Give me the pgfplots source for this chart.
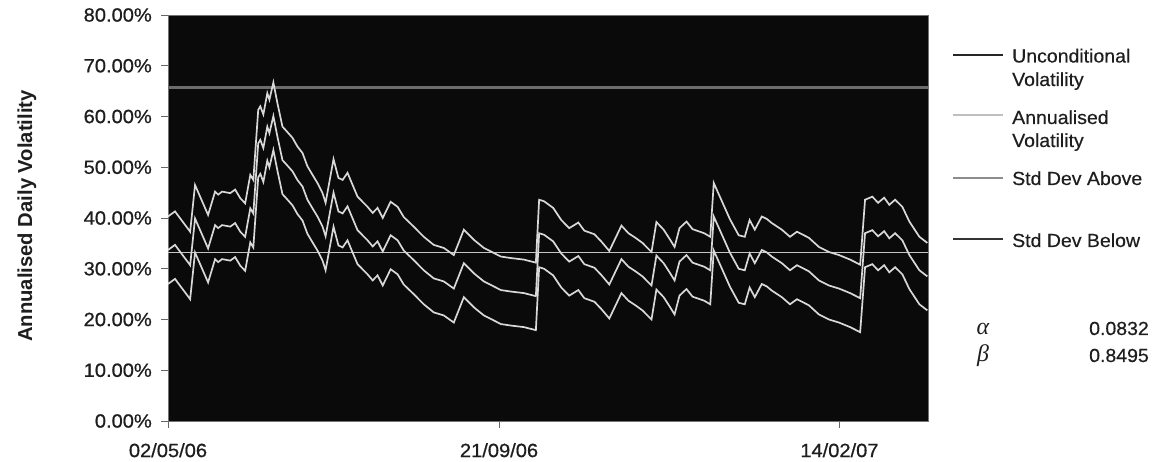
\documentclass[border=0pt]{standalone}
\usepackage{pgfplots}
\usepackage{pgfplotstable}
\pgfplotsset{compat=1.18}
\usepackage{fontspec}
\setmainfont{Liberation Sans}
\newfontfamily\tickfont{Liberation Sans}[FakeStretch=1.05, FakeBold=0.7]
\newfontfamily\legtextfont{Liberation Sans}[FakeStretch=1.03, FakeBold=0.4]
\newfontfamily\grkfont{Liberation Serif}
\definecolor{curvecol}{HTML}{D8D8D8}
\definecolor{unccol}{HTML}{C4C4C4}
\definecolor{topline}{HTML}{6C6C6C}
\definecolor{plotbg}{HTML}{0A0A0A}
\definecolor{txt}{HTML}{1E1E1E}
\newcommand\legfont{\legtextfont\fontsize{19}{23}\selectfont}

\pgfplotstableread{
d top mid bot
0.0 40.3 33.7 27.0
3.0 41.3 34.7 28.0
9.5 37.3 30.7 24.0
11.6 46.5 39.9 33.2
17.2 40.6 34.0 27.3
20.2 45.2 38.6 31.9
21.5 44.6 38.0 31.3
23.2 45.2 38.6 31.9
26.7 44.9 38.3 31.6
28.8 45.6 39.0 32.3
31.0 43.9 37.3 30.6
33.1 42.9 36.3 29.6
35.3 48.5 41.9 35.2
36.6 47.5 40.9 34.2
38.7 61.3 54.7 48.0
39.6 62.0 55.4 48.7
40.9 60.4 53.8 47.1
42.6 64.6 58.0 51.3
43.5 63.3 56.7 50.0
45.2 66.7 60.1 53.4
46.9 62.7 56.1 49.4
49.1 58.0 51.4 44.7
50.3 57.4 50.8 44.1
53.4 55.8 49.2 42.5
55.5 54.1 47.5 40.8
57.7 52.8 46.2 39.5
59.8 50.2 43.6 36.9
62.0 48.5 41.9 35.2
64.1 46.9 40.3 33.6
66.3 44.9 38.3 31.6
67.6 43.0 36.4 29.7
71.0 51.6 45.0 38.3
73.1 47.9 41.3 34.6
74.9 47.5 40.9 34.2
77.0 48.9 42.3 35.6
81.3 44.2 37.6 30.9
85.6 42.2 35.6 28.9
87.8 41.0 34.4 27.7
89.9 42.0 35.4 28.7
92.1 40.0 33.4 26.7
95.5 43.2 36.6 29.9
98.5 42.2 35.6 28.9
101.1 40.2 33.6 26.9
105.4 38.3 31.7 25.0
109.7 36.3 29.7 23.0
114.0 34.7 28.1 21.4
118.3 34.1 27.5 20.8
122.6 32.7 26.1 19.4
126.9 37.7 31.1 24.4
131.2 35.7 29.1 22.4
135.5 34.1 27.5 20.8
139.8 33.1 26.5 19.8
142.8 32.4 25.8 19.1
147.2 32.1 25.5 18.8
152.7 31.8 25.2 18.5
157.8 31.2 24.6 17.9
159.2 43.6 37.0 30.3
161.3 43.3 36.7 30.0
165.2 42.0 35.4 28.7
168.7 39.6 33.0 26.3
172.1 38.0 31.4 24.7
176.0 39.1 32.5 25.8
178.6 37.5 30.9 24.2
182.9 36.8 30.2 23.5
186.0 35.3 28.7 22.0
189.3 33.5 26.9 20.2
194.5 38.5 31.9 25.2
197.5 37.0 30.4 23.7
200.5 36.1 29.5 22.8
203.5 35.1 28.5 21.8
207.4 33.3 26.7 20.0
209.5 39.2 32.6 25.9
212.6 37.7 31.1 24.4
215.0 36.0 29.4 22.7
217.3 34.3 27.7 21.0
219.4 38.0 31.4 24.7
222.4 39.3 32.7 26.0
225.0 37.8 31.2 24.5
230.0 37.0 30.4 23.7
232.6 36.3 29.7 23.0
234.1 46.9 40.3 33.6
237.5 43.4 36.8 30.1
241.0 39.8 33.2 26.5
244.8 36.6 30.0 23.3
247.4 36.3 29.7 23.0
249.5 39.6 33.0 26.3
251.7 37.7 31.1 24.4
254.7 40.3 33.7 27.0
256.9 39.8 33.2 26.5
259.0 39.0 32.4 25.7
263.3 37.7 31.1 24.4
266.8 36.3 29.7 23.0
269.8 37.3 30.7 24.0
274.9 36.1 29.5 22.8
279.2 34.3 27.7 21.0
283.5 33.3 26.7 20.0
287.8 32.7 26.1 19.4
292.6 31.8 25.2 18.5
296.9 30.8 24.2 17.5
299.0 43.6 37.0 30.3
302.1 44.2 37.6 30.9
304.6 43.0 36.4 29.7
307.2 44.0 37.4 30.7
309.4 42.6 36.0 29.3
311.9 43.6 37.0 30.3
315.0 42.2 35.6 28.9
318.0 39.3 32.7 26.0
322.3 36.3 29.7 23.0
325.7 35.1 28.5 21.8
}\vol

\begin{document}
\begin{tikzpicture}
\path[use as bounding box, fill=white] (0bp,0bp) rectangle (1156bp,462bp);
\begin{axis}[
  at={(168bp,41bp)}, anchor=south west,
  scale only axis, width=760bp, height=406bp,
  xmin=0, xmax=326, ymin=0, ymax=80,
  axis background/.style={fill=plotbg},
  axis line style={black!55, line width=0.9bp},
  xtick={0,142,288},
  xticklabels={02/05/06,21/09/06,14/02/07},
  ytick={0,10,20,30,40,50,60,70,80},
  yticklabels={0.00\%,10.00\%,20.00\%,30.00\%,40.00\%,50.00\%,60.00\%,70.00\%,80.00\%},
  tick align=outside, major tick length=7bp,
  tick style={black!60, line width=0.8bp},
  xtick pos=bottom, ytick pos=left,
  tick label style={font=\tickfont\fontsize{19.2}{21}\selectfont, text=txt},
  yticklabel style={anchor=east, inner sep=0pt, xshift=-9bp},
  xticklabel style={anchor=north, inner sep=0pt, yshift=-15bp},
  clip=true,
]
\addplot[no marks, color=topline, line width=3.5bp] coordinates {(0,65.7) (326,65.7)};
\addplot[no marks, color=unccol, line width=1.5bp] coordinates {(0,33.2) (326,33.2)};
\addplot[no marks, color=curvecol, line width=1.7bp] table[x=d, y=top] {\vol};
\addplot[no marks, color=curvecol, line width=1.7bp] table[x=d, y=mid] {\vol};
\addplot[no marks, color=curvecol, line width=1.7bp] table[x=d, y=bot] {\vol};
\end{axis}

% y axis title
\node[rotate=90, text=txt, font=\bfseries\fontsize{20.3}{22}\selectfont] at (27bp,246bp) {Annualised Daily Volatility};

% legend
\draw[line width=1.5bp, black!85] (953bp,407bp) -- (1003bp,407bp);
\node[anchor=base west, inner sep=0pt, text=txt, font=\legfont] at (1012bp,399.5bp) {Unconditional};
\node[anchor=base west, inner sep=0pt, text=txt, font=\legfont] at (1012bp,376bp) {Volatility};
\draw[line width=1.5bp, black!25] (953bp,347bp) -- (1003bp,347bp);
\node[anchor=base west, inner sep=0pt, text=txt, font=\legfont] at (1012bp,338bp) {Annualised};
\node[anchor=base west, inner sep=0pt, text=txt, font=\legfont] at (1012bp,315bp) {Volatility};
\draw[line width=1.5bp, black!45] (953bp,284bp) -- (1003bp,284bp);
\node[anchor=base west, inner sep=0pt, text=txt, font=\legfont] at (1012bp,277bp) {Std Dev Above};
\draw[line width=1.5bp, black!80] (953bp,223bp) -- (1003bp,223bp);
\node[anchor=base west, inner sep=0pt, text=txt, font=\legfont] at (1012bp,215bp) {Std Dev Below};

% parameters
\node[anchor=base, inner sep=0pt, text=txt, font=\grkfont\itshape\fontsize{24}{26}\selectfont] at (983bp,127bp) {α};
\node[anchor=base, inner sep=0pt, text=txt, font=\grkfont\itshape\fontsize{24}{26}\selectfont] at (983bp,100bp) {β};
\node[anchor=base east, inner sep=0pt, text=txt, font=\legfont] at (1149bp,127bp) {0.0832};
\node[anchor=base east, inner sep=0pt, text=txt, font=\legfont] at (1149bp,100bp) {0.8495};
\end{tikzpicture}
\end{document}
